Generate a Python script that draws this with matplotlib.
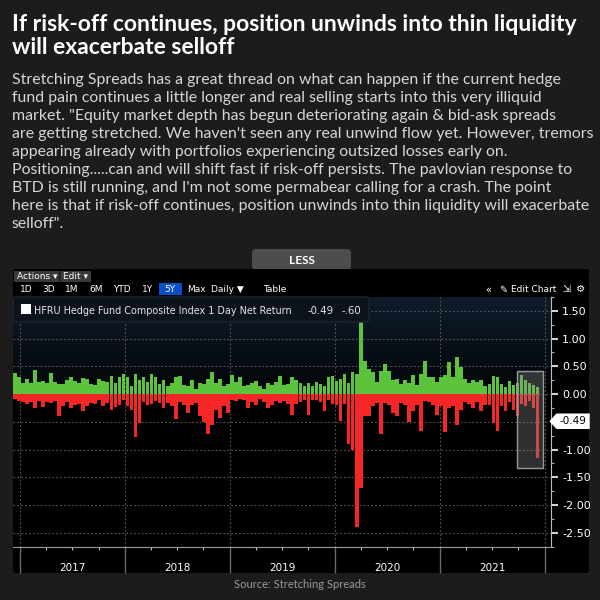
import numpy as np
import pandas as pd
import matplotlib
matplotlib.use('Agg')
import matplotlib.pyplot as plt
import matplotlib.dates as mdates
from matplotlib.patches import Rectangle, FancyBboxPatch, Polygon
from matplotlib.colors import LinearSegmentedColormap
from matplotlib.transforms import blended_transform_factory
from matplotlib import font_manager

# ---- text ----
title_lines = ["If risk-off continues, position unwinds into thin liquidity",
               "will exacerbate selloff"]
body_lines = [
    "Stretching Spreads has a great thread on what can happen if the current hedge",
    "fund pain continues a little longer and real selling starts into this very illiquid",
    "market. \"Equity market depth has begun deteriorating again & bid-ask spreads",
    "are getting stretched. We haven't seen any real unwind flow yet. However, tremors",
    "appearing already with portfolios experiencing outsized losses early on.",
    "Positioning.....can and will shift fast if risk-off persists. The pavlovian response to",
    "BTD is still running, and I'm not some permabear calling for a crash. The point",
    "here is that if risk-off continues, position unwinds into thin liquidity will exacerbate",
    "selloff\".",
]
source = "Source: Stretching Spreads"
legend_label = "HFRU Hedge Fund Composite Index 1 Day Net Return"
legend_vals = ["-0.49", "-.60"]
range_buttons = ["1D", "3D", "1M", "6M", "YTD", "1Y", "5Y", "Max", "Daily \u25bc", "Table"]
active_button = "5Y"

# ---- data (two-week buckets: high and low daily return) ----
start = "2016-12-07"
step_days = 14
pos = [0.38, 0.30, 0.20, 0.28, 0.20, 0.44, 0.22, 0.24, 0.20, 0.38, 0.22, 0.19, 0.18, 0.26, 0.30, 0.24,
       0.20, 0.29, 0.27, 0.19, 0.17, 0.28, 0.24, 0.22, 0.32, 0.20, 0.30, 0.36, 0.30, 0.14, 0.36, 0.25, 0.30,
       0.22, 0.36, 0.30, 0.18, 0.26, 0.14, 0.20, 0.30, 0.32, 0.16, 0.14, 0.26, 0.10, 0.20, 0.18, 0.28,
       0.40, 0.20, 0.28, 0.14, 0.18, 0.35, 0.22, 0.30, 0.14, 0.16, 0.20, 0.24, 0.14, 0.10, 0.20, 0.16,
       0.22, 0.33, 0.17, 0.19, 0.31, 0.26, 0.20, 0.14, 0.20, 0.15, 0.22, 0.18, 0.14, 0.30, 0.33, 0.24,
       0.28, 0.36, 0.20, 0.40, 0.36, 1.30, 0.60, 0.45, 0.40, 0.22, 0.42, 0.55, 0.42, 0.25, 0.28, 0.19,
       0.25, 0.20, 0.34, 0.16, 0.36, 0.60, 0.30, 0.30, 0.22, 0.30, 0.34, 0.57, 0.30, 0.66, 0.48, 0.28,
       0.20, 0.26, 0.22, 0.25, 0.15, 0.19, 0.32, 0.30, 0.19, 0.13, 0.24, 0.16, 0.20, 0.34, 0.25, 0.20,
       0.16, 0.12]
neg = [-0.08, -0.13, -0.15, -0.18, -0.15, -0.25, -0.12, -0.24, -0.14, -0.16, -0.12, -0.40, -0.22, -0.14,
       -0.26, -0.20, -0.18, -0.31, -0.22, -0.16, -0.17, -0.10, -0.22, -0.16, -0.28, -0.24, -0.20, -0.11,
       -0.22, -0.29, -0.78, -0.52, -0.14,
       -0.20, -0.17, -0.12, -0.16, -0.25, -0.16, -0.22, -0.45, -0.14, -0.20, -0.34, -0.20, -0.16, -0.40,
       -0.50, -0.72, -0.55, -0.28, -0.43, -0.22, -0.35, -0.10, -0.12, -0.08, -0.10, -0.25, -0.14, -0.20,
       -0.08, -0.14, -0.25, -0.20,
       -0.12, -0.16, -0.12, -0.17, -0.37, -0.17, -0.14, -0.11, -0.37, -0.11, -0.10, -0.14, -0.31, -0.11,
       -0.17, -0.20, -0.49, -0.17, -0.90, -1.00, -2.40, -1.69, -0.40, -0.40, -0.22, -0.16, -0.72, -0.16,
       -0.20, -0.34, -0.40, -0.16,
       -0.20, -0.50, -0.30, -0.20, -0.66, -0.12, -0.14, -0.20, -0.37, -0.22, -0.69, -0.25, -0.22, -0.55,
       -0.28, -0.14, -0.17, -0.25, -0.14, -0.31, -0.20, -0.20, -0.52, -0.66, -0.22, -0.31, -0.14, -0.28,
       -0.40, -0.17, -0.22, -0.12, -0.25, -1.16]
last_value = -0.49
yticks = [1.5, 1.0, 0.5, 0.0, -0.5, -1.0, -1.5, -2.0, -2.5]
years = [2017, 2018, 2019, 2020, 2021]
x_range = ("2016-12-07", "2022-01-23")
y_range = (-2.757, 1.653)
box_dates = ("2021-09-28", "2021-12-26")
box_y = (-1.34, 0.42)

GREEN = "#5cc43c"
RED = "#f52626"
TXT = "Lato"
names = {f.name for f in font_manager.fontManager.ttflist}
COND = "Liberation Sans Narrow" if "Liberation Sans Narrow" in names else "DejaVu Sans"
CF = [COND, "DejaVu Sans"]

fig = plt.figure(figsize=(6, 6), dpi=100, facecolor="#1c1c1c")

# background layer in pixel coords (y down)
bg = fig.add_axes([0, 0, 1, 1], zorder=0)
bg.set_xlim(0, 600)
bg.set_ylim(600, 0)
bg.axis("off")

for i, line in enumerate(title_lines):
    bg.text(12, 31 + 23 * i, line, color="white", fontsize=16.5, fontweight="bold",
            family=TXT, va="baseline")
for i, line in enumerate(body_lines):
    bg.text(12, 84 + 18 * i, line, color="#d6d6d6", fontsize=11.4, family=TXT, va="baseline")

bg.add_patch(FancyBboxPatch((252, 249), 99, 21, boxstyle="round,pad=0,rounding_size=4",
                            fc="#4d4d4d", ec="none"))
bg.text(301.5, 260, "LESS", ha="center", va="center", color="white", fontsize=8.5,
        fontweight="bold", family=TXT)

# chart panel
bg.add_patch(FancyBboxPatch((13, 269), 576, 304, boxstyle="round,pad=0,rounding_size=3",
                            fc="black", ec="none"))
bg.add_patch(Rectangle((14, 271), 77, 11, fc="#3a3a3a", ec="none"))
bg.plot([59, 59], [271, 282], color="#1a1a1a", lw=1)
bg.text(17, 276.5, "Actions \u25be", color="white", fontsize=6.5, family=CF, va="center")
bg.text(63, 276.5, "Edit \u25be", color="white", fontsize=6.5, family=CF, va="center")

btn_x = [26, 49, 72, 96, 122, 148, 170, 196, 227, 275]
for lbl, bx in zip(range_buttons, btn_x):
    if lbl == active_button:
        bg.add_patch(Rectangle((bx - 11, 283), 23, 12, fc="#0b4fc8", ec="none"))
    bg.text(bx, 289.5, lbl, color="white", fontsize=6.5, family=CF, ha="center", va="center")
bg.text(488, 289.5, "\u00ab", color="white", fontsize=7, family=CF, ha="center", va="center")
bg.text(503, 289.5, "\u270e", color="white", fontsize=7, family="DejaVu Sans", ha="center", va="center")
bg.text(511, 289.5, "Edit Chart", color="white", fontsize=6.5, family=CF, va="center")
bg.text(566, 289.5, "\u21f2", color="white", fontsize=7, family="DejaVu Sans", ha="center", va="center")
bg.text(581, 289.5, "\u2699", color="white", fontsize=7.5, family="DejaVu Sans", ha="center", va="center")

bg.text(300, 584, source, ha="center", va="center", color="#9a9a9a", fontsize=8, family=TXT)

# ---- main chart ----
ax = fig.add_axes([13 / 600, 1 - 547 / 600, 538 / 600, 250 / 600], zorder=2)
ax.set_facecolor("black")
grad = np.clip(np.linspace(0, 1 / 0.45, 200), 0, 1)[:, None]
cmap = LinearSegmentedColormap.from_list("bb", ["#0e1d2c", "#000000"])
ax.imshow(grad, extent=[0, 1, 0, 1], transform=ax.transAxes, aspect="auto", cmap=cmap, zorder=0)

x = mdates.date2num(pd.date_range(start, periods=len(pos), freq=f"{step_days}D"))
ax.bar(x, pos, width=step_days * 0.92, align="edge", color=GREEN, linewidth=0, zorder=2)
ax.bar(x, neg, width=step_days * 0.92, align="edge", color=RED, linewidth=0, zorder=2)

b0, b1 = mdates.date2num(pd.to_datetime(list(box_dates)))
ax.add_patch(Rectangle((b0, box_y[0]), b1 - b0, box_y[1] - box_y[0], fc=(0.55, 0.55, 0.55, 0.35),
                       ec="#9a9a9a", lw=1, zorder=3))

xl = mdates.date2num(pd.to_datetime(list(x_range)))
ax.set_xlim(xl)
ax.set_ylim(*y_range)

ax.xaxis.set_major_locator(mdates.YearLocator())
ax.xaxis.set_minor_locator(mdates.MonthLocator(bymonth=[4, 7, 10]))
ax.xaxis.set_major_formatter(plt.NullFormatter())
ax.tick_params(axis="x", which="major", length=19, width=1, color="#6a6a6a", direction="out")
ax.tick_params(axis="x", which="minor", length=2.5, width=0.8, color="#bbbbbb", direction="out")

ax.yaxis.tick_right()
ax.set_yticks(yticks)
ax.set_yticklabels(["" if v == -0.5 else f"{v:.2f}" for v in yticks], family=CF)
ax.set_yticks(np.arange(-2.75, 1.76, 0.25), minor=True)
ax.tick_params(axis="y", which="major", length=5, width=1.2, color="white", labelcolor="white",
               labelsize=8, pad=3)
ax.tick_params(axis="y", which="minor", length=2.5, width=0.8, color="#aaaaaa")

ax.grid(which="major", color="#5a5a5a", linestyle=(0, (1.5, 2)), linewidth=0.8, zorder=1)
ax.set_axisbelow(True)
for s in ["top", "left"]:
    ax.spines[s].set_visible(False)
ax.spines["bottom"].set_color("#9a9a9a")
ax.spines["right"].set_color("#bbbbbb")

blend_xd = blended_transform_factory(ax.transData, ax.transAxes)
for yr in years:
    mid = mdates.date2num(pd.Timestamp(f"{yr}-07-02"))
    ax.text(mid, -0.084, str(yr), transform=blend_xd, ha="center", va="center",
            color="white", fontsize=7.5, family=CF)

# current value tag
blend_ad = blended_transform_factory(ax.transAxes, ax.transData)
h = 0.14
ax.add_patch(Polygon([(0.997, last_value), (1.01, last_value + h), (1.072, last_value + h),
                      (1.072, last_value - h), (1.01, last_value - h)], closed=True,
                     transform=blend_ad, fc="white", ec="none", clip_on=False, zorder=6))
ax.text(1.041, last_value, f"{last_value:.2f}", transform=blend_ad, ha="center", va="center",
        color="black", fontsize=7.5, family=CF, zorder=7)

# legend box on top
ov = fig.add_axes([0, 0, 1, 1], zorder=4)
ov.set_xlim(0, 600)
ov.set_ylim(600, 0)
ov.axis("off")
ov.patch.set_alpha(0)
ov.add_patch(FancyBboxPatch((13, 297), 356, 25, boxstyle="round,pad=0,rounding_size=3",
                            fc="#0c131b", ec="#1e2630", lw=1))
ov.add_patch(Rectangle((21, 304), 10, 10, fc="white", ec="none"))
ov.text(34, 314, legend_label, color="#e6e6e6", fontsize=6.9, family=CF, va="baseline")
ov.text(307, 314, legend_vals[0], color="#e6e6e6", fontsize=7.3, family=CF, va="baseline")
ov.text(341, 314, legend_vals[1], color="#e6e6e6", fontsize=7.3, family=CF, va="baseline")

fig.savefig("out.png", dpi=100, facecolor=fig.get_facecolor())
